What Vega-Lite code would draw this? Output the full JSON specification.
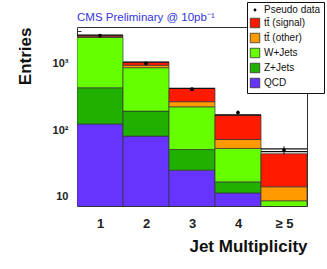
{
  "$schema": "https://vega.github.io/schema/vega-lite/v6.json",
  "autosize": "none",
  "width": 230,
  "height": 179,
  "padding": {"left": 77, "top": 27, "right": 20, "bottom": 63},
  "background": "white",
  "config": {"view": {"stroke": "#333", "strokeWidth": 1}, "font": "Liberation Sans"},
  "title": {"text": "CMS Preliminary @ 10pb⁻¹", "anchor": "start", "frame": "group", "fontSize": 11.5, "fontWeight": "normal", "color": "#3333dd", "offset": -22, "font": "Liberation Sans"},
  "datasets": {
    "mc": [
      {"bin": 1, "lo": 0.5, "hi": 1.5, "process": "QCD", "y0": 1, "y1": 123},
      {"bin": 1, "lo": 0.5, "hi": 1.5, "process": "Z+Jets", "y0": 123, "y1": 430},
      {"bin": 1, "lo": 0.5, "hi": 1.5, "process": "W+Jets", "y0": 430, "y1": 2440},
      {"bin": 1, "lo": 0.5, "hi": 1.5, "process": "tt̄ (other)", "y0": 2440, "y1": 2500},
      {"bin": 1, "lo": 0.5, "hi": 1.5, "process": "tt̄ (signal)", "y0": 2500, "y1": 2620},
      {"bin": 2, "lo": 1.5, "hi": 2.5, "process": "QCD", "y0": 1, "y1": 81},
      {"bin": 2, "lo": 1.5, "hi": 2.5, "process": "Z+Jets", "y0": 81, "y1": 192},
      {"bin": 2, "lo": 1.5, "hi": 2.5, "process": "W+Jets", "y0": 192, "y1": 860},
      {"bin": 2, "lo": 1.5, "hi": 2.5, "process": "tt̄ (other)", "y0": 860, "y1": 935},
      {"bin": 2, "lo": 1.5, "hi": 2.5, "process": "tt̄ (signal)", "y0": 935, "y1": 1035},
      {"bin": 3, "lo": 2.5, "hi": 3.5, "process": "QCD", "y0": 1, "y1": 25},
      {"bin": 3, "lo": 2.5, "hi": 3.5, "process": "Z+Jets", "y0": 25, "y1": 51},
      {"bin": 3, "lo": 2.5, "hi": 3.5, "process": "W+Jets", "y0": 51, "y1": 223},
      {"bin": 3, "lo": 2.5, "hi": 3.5, "process": "tt̄ (other)", "y0": 223, "y1": 266},
      {"bin": 3, "lo": 2.5, "hi": 3.5, "process": "tt̄ (signal)", "y0": 266, "y1": 419},
      {"bin": 4, "lo": 3.5, "hi": 4.5, "process": "QCD", "y0": 1, "y1": 11.4},
      {"bin": 4, "lo": 3.5, "hi": 4.5, "process": "Z+Jets", "y0": 11.4, "y1": 16.7},
      {"bin": 4, "lo": 3.5, "hi": 4.5, "process": "W+Jets", "y0": 16.7, "y1": 53},
      {"bin": 4, "lo": 3.5, "hi": 4.5, "process": "tt̄ (other)", "y0": 53, "y1": 72},
      {"bin": 4, "lo": 3.5, "hi": 4.5, "process": "tt̄ (signal)", "y0": 72, "y1": 167},
      {"bin": 5, "lo": 4.5, "hi": 5.5, "process": "QCD", "y0": 1, "y1": 3},
      {"bin": 5, "lo": 4.5, "hi": 5.5, "process": "Z+Jets", "y0": 3, "y1": 5},
      {"bin": 5, "lo": 4.5, "hi": 5.5, "process": "W+Jets", "y0": 5, "y1": 8.7},
      {"bin": 5, "lo": 4.5, "hi": 5.5, "process": "tt̄ (other)", "y0": 8.7, "y1": 14.1},
      {"bin": 5, "lo": 4.5, "hi": 5.5, "process": "tt̄ (signal)", "y0": 14.1, "y1": 44}
    ],
    "tot": [
      {"bin": 1, "lo": 0.5, "hi": 1.5, "total": 2640},
      {"bin": 2, "lo": 1.5, "hi": 2.5, "total": 1040},
      {"bin": 3, "lo": 2.5, "hi": 3.5, "total": 420},
      {"bin": 4, "lo": 3.5, "hi": 4.5, "total": 168},
      {"bin": 5, "lo": 4.5, "hi": 5.5, "total": 47.5},
      {"bin": 5, "lo": 4.5, "hi": 5.5, "total": 52}
    ],
    "pd": [
      {"bin": 1, "process": "Pseudo data", "entries": 2600, "errLo": 2549, "errHi": 2651},
      {"bin": 2, "process": "Pseudo data", "entries": 1000, "errLo": 968, "errHi": 1032},
      {"bin": 3, "process": "Pseudo data", "entries": 410, "errLo": 390, "errHi": 430},
      {"bin": 4, "process": "Pseudo data", "entries": 183, "errLo": 169.5, "errHi": 196.5},
      {"bin": 5, "process": "Pseudo data", "entries": 50, "errLo": 43, "errHi": 57}
    ]
  },
  "layer": [
    {
      "data": {"name": "mc"},
      "mark": {"type": "rect", "stroke": "#333", "strokeWidth": 0.7, "clip": true},
      "encoding": {
        "x": {"field": "lo", "type": "quantitative",
          "scale": {"domain": [0.5, 5.5], "nice": false, "zero": false},
          "axis": {"values": [1, 2, 3, 4, 5], "labelExpr": "datum.value == 5 ? '≥ 5' : datum.label", "grid": false, "domain": false, "tickSize": -5, "tickColor": "#333", "labelPadding": 16, "labelFontSize": 13, "labelFontWeight": "bold", "labelFont": "Liberation Sans", "labelColor": "#222", "title": "Jet Multiplicity", "titleFontSize": 17, "titleFontWeight": "bold", "titleFont": "Liberation Sans", "titleAnchor": "end", "titlePadding": 8, "titleColor": "#111"}},
        "x2": {"field": "hi"},
        "y": {"field": "y0", "type": "quantitative",
          "scale": {"type": "log", "domain": [7.26, 3500], "nice": false},
          "axis": {"values": [8, 9, 10, 20, 30, 40, 50, 60, 70, 80, 90, 100, 200, 300, 400, 500, 600, 700, 800, 900, 1000, 2000, 3000],
            "labelExpr": "datum.value == 10 ? '10' : datum.value == 100 ? '10²' : datum.value == 1000 ? '10³' : ''",
            "grid": false, "domain": false,
            "tickSize": -4,
            "tickColor": "#333", "labelPadding": 13, "labelFontSize": 11, "labelFontWeight": "bold", "labelFont": "Liberation Sans", "labelColor": "#222",
            "title": "Entries", "titleFontSize": 17, "titleFontWeight": "bold", "titleFont": "Liberation Sans", "titleAnchor": "end", "titlePadding": 18, "titleColor": "#111"}},
        "y2": {"field": "y1"},
        "color": {"field": "process", "type": "nominal",
          "scale": {"domain": ["Pseudo data", "tt̄ (signal)", "tt̄ (other)", "W+Jets", "Z+Jets", "QCD"],
            "range": ["#000000", "#ff1a00", "#ff9a00", "#66ff00", "#22b000", "#6633ff"]},
          "legend": {"orient": "none", "legendX": 170, "legendY": -25, "title": null, "fillColor": "white", "strokeColor": "#111", "padding": 3,
            "labelFontSize": 10, "labelFont": "Liberation Sans", "labelColor": "#111", "symbolType": "square", "symbolSize": 90,
            "symbolStrokeColor": "#333", "symbolStrokeWidth": 0.8, "rowPadding": 1, "labelOffset": 4,
            "encode": {"symbols": {"update": {
              "size": {"signal": "datum.value === 'Pseudo data' ? 8 : 90"},
              "shape": {"signal": "datum.value === 'Pseudo data' ? 'circle' : 'square'"},
              "strokeWidth": {"signal": "datum.value === 'Pseudo data' ? 0 : 0.8"}
            }}}}
        }
      }
    },
    {
      "data": {"name": "tot"},
      "mark": {"type": "rule", "color": "#111", "strokeWidth": 1.3},
      "encoding": {"x": {"field": "lo", "type": "quantitative"}, "x2": {"field": "hi"}, "y": {"field": "total", "type": "quantitative"}}
    },
    {
      "data": {"name": "pd"},
      "mark": {"type": "rule", "color": "#111", "strokeWidth": 1},
      "encoding": {"x": {"field": "bin", "type": "quantitative"}, "y": {"field": "errLo", "type": "quantitative"}, "y2": {"field": "errHi"}}
    },
    {
      "data": {"name": "pd"},
      "mark": {"type": "point", "filled": true, "size": 14, "shape": "circle", "opacity": 1},
      "encoding": {"x": {"field": "bin", "type": "quantitative"}, "y": {"field": "entries", "type": "quantitative"}, "color": {"field": "process", "type": "nominal"}}
    }
  ]
}
